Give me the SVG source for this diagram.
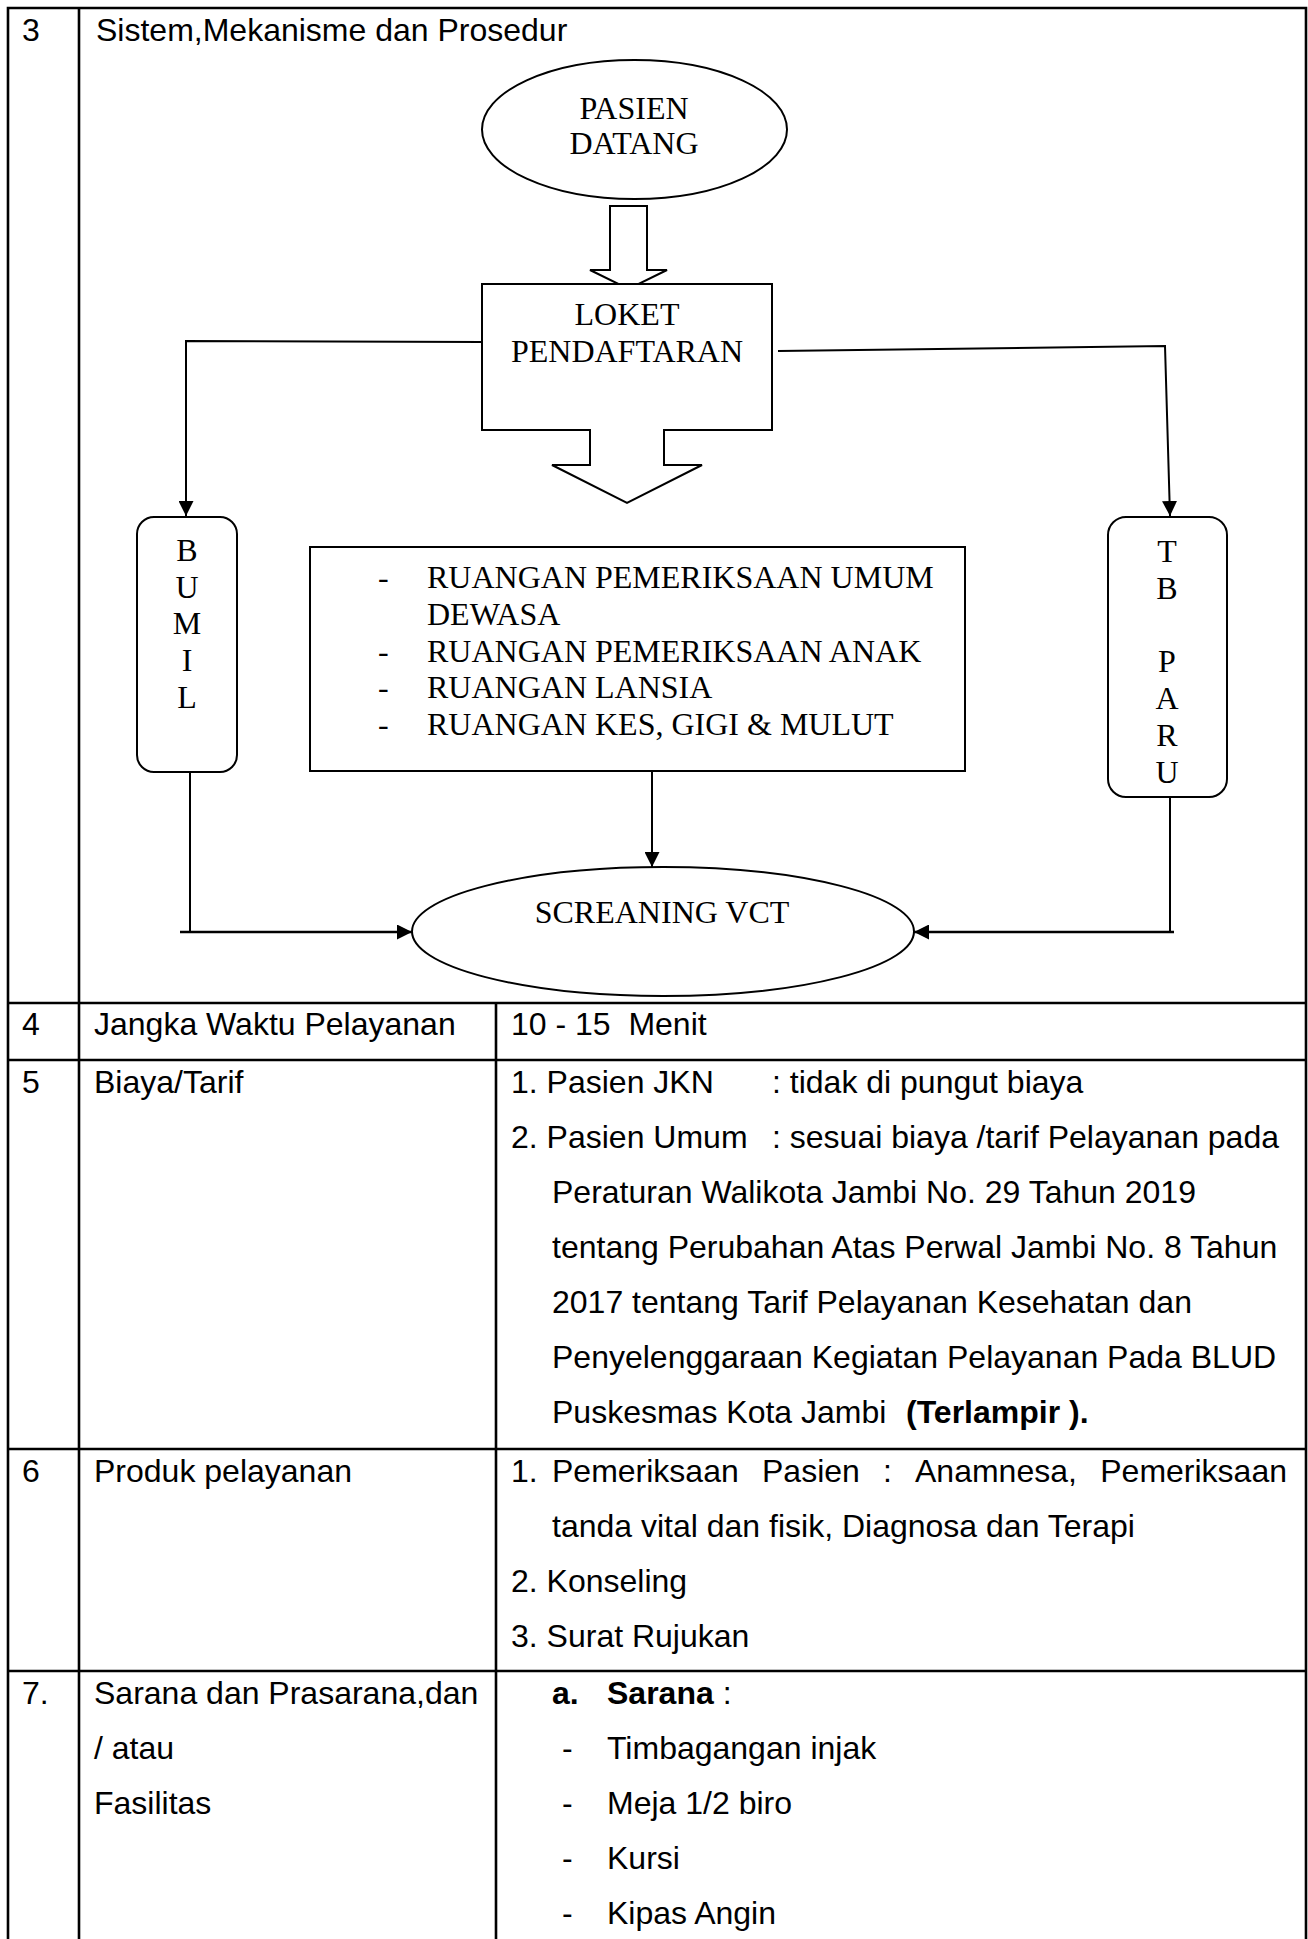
<svg xmlns="http://www.w3.org/2000/svg" width="1308" height="1939" viewBox="0 0 1308 1939">
  <style>
    .grid { stroke: #000; stroke-width: 2.6; fill: none; }
    .shape { stroke: #000; stroke-width: 2; fill: #fff; }
    .link { stroke: #000; stroke-width: 2; fill: none; }
    .link-bold { stroke: #000; stroke-width: 2.6; fill: none; }
    .sans { font-family: "Liberation Sans", Arial, sans-serif; font-size: 32px; fill: #000; }
    .serif { font-family: "Liberation Serif", "Times New Roman", serif; font-size: 32px; fill: #000; }
    .mid { text-anchor: middle; }
    .b { font-weight: bold; }
  </style>
  <defs>
    <marker id="arrow" viewBox="0 0 15 15" refX="15" refY="7.5" markerWidth="15" markerHeight="15" markerUnits="userSpaceOnUse" orient="auto">
      <path d="M0,0 L15,7.5 L0,15 z" fill="#000"/>
    </marker>
  </defs>

  <rect width="1308" height="1939" fill="#fff"/>

  <!-- table ruling -->
  <g id="table">
    <path class="grid" d="M8,1939 V8 H1306 V1939"/>
    <path class="grid" d="M79,8 V1939"/>
    <path class="grid" d="M8,1003 H1306"/>
    <path class="grid" d="M496,1003 V1939"/>
    <path class="grid" d="M8,1060 H1306"/>
    <path class="grid" d="M8,1449 H1306"/>
    <path class="grid" d="M8,1671 H1306"/>
  </g>

  <!-- row 3 heading -->
  <g id="row3">
    <text class="sans" x="22" y="41">3</text>
    <text class="sans" x="96" y="41">Sistem,Mekanisme dan Prosedur</text>
  </g>

  <!-- flowchart connectors -->
  <g id="connectors">
    <path class="link" d="M482,342 L186,341 L186,516" marker-end="url(#arrow)"/>
    <path class="link" d="M778,351 L1165,346 L1170,516" marker-end="url(#arrow)"/>
    <path class="link" d="M190,772 V932"/>
    <path class="link-bold" d="M180,932 H412" marker-end="url(#arrow)"/>
    <path class="link" d="M652,771 V867" marker-end="url(#arrow)"/>
    <path class="link" d="M1170,797 V932"/>
    <path class="link-bold" d="M1174,932 H914" marker-end="url(#arrow)"/>
  </g>

  <!-- block arrow: patient to registration -->
  <g id="arrow-in">
    <polygon class="shape" points="610,206 647,206 647,270 667,270 628.5,289 590,270 610,270"/>
  </g>

  <g id="pasien-datang">
    <ellipse class="shape" cx="634.5" cy="129.5" rx="152.5" ry="69.5"/>
    <text class="serif mid" x="634" y="119">PASIEN</text>
    <text class="serif mid" x="634" y="154">DATANG</text>
  </g>

  <g id="loket">
    <rect class="shape" x="482" y="284" width="290" height="146"/>
    <text class="serif mid" x="627" y="325">LOKET</text>
    <text class="serif mid" x="627" y="362">PENDAFTARAN</text>
  </g>

  <!-- block arrow: registration to rooms -->
  <g id="arrow-out">
    <polygon points="591,429 663,429 663,465 702,465 627,503 552,465 591,465" fill="#fff"/>
    <path class="link" d="M590,430 V465 H552 L627,503 L702,465 H664 V430"/>
  </g>

  <g id="bumil">
    <rect class="shape" x="137" y="517" width="100" height="255" rx="17" ry="17"/>
    <text class="serif mid" x="187" y="561">B</text>
    <text class="serif mid" x="187" y="597.7">U</text>
    <text class="serif mid" x="187" y="634.4">M</text>
    <text class="serif mid" x="187" y="671.1">I</text>
    <text class="serif mid" x="187" y="707.8">L</text>
  </g>

  <g id="ruangan">
    <rect class="shape" x="310" y="547" width="655" height="224"/>
    <text class="serif" x="378" y="588">-</text>
    <text class="serif" x="427" y="588">RUANGAN PEMERIKSAAN UMUM</text>
    <text class="serif" x="427" y="625">DEWASA</text>
    <text class="serif" x="378" y="661.5">-</text>
    <text class="serif" x="427" y="661.5">RUANGAN PEMERIKSAAN ANAK</text>
    <text class="serif" x="378" y="698">-</text>
    <text class="serif" x="427" y="698">RUANGAN LANSIA</text>
    <text class="serif" x="378" y="735">-</text>
    <text class="serif" x="427" y="735">RUANGAN KES, GIGI &amp; MULUT</text>
  </g>

  <g id="tb-paru">
    <rect class="shape" x="1108" y="517" width="119" height="280" rx="18" ry="18"/>
    <text class="serif mid" x="1167" y="562">T</text>
    <text class="serif mid" x="1167" y="598.5">B</text>
    <text class="serif mid" x="1167" y="672">P</text>
    <text class="serif mid" x="1167" y="709">A</text>
    <text class="serif mid" x="1167" y="746">R</text>
    <text class="serif mid" x="1167" y="783">U</text>
  </g>

  <g id="screening-vct">
    <ellipse class="shape" cx="663" cy="931.5" rx="251" ry="64.5"/>
    <text class="serif mid" x="662" y="923">SCREANING VCT</text>
  </g>

  <!-- row 4 -->
  <g id="row4">
    <text class="sans" x="22" y="1035">4</text>
    <text class="sans" x="94" y="1035">Jangka Waktu Pelayanan</text>
    <text class="sans" x="511" y="1035" xml:space="preserve">10 - 15  Menit</text>
  </g>

  <!-- row 5 -->
  <g id="row5">
    <text class="sans" x="22" y="1093">5</text>
    <text class="sans" x="94" y="1093">Biaya/Tarif</text>
    <text class="sans" x="511" y="1093">1. Pasien JKN</text>
    <text class="sans" x="772" y="1093">: tidak di pungut biaya</text>
    <text class="sans" x="511" y="1148">2. Pasien Umum</text>
    <text class="sans" x="772" y="1148">: sesuai biaya /tarif Pelayanan pada</text>
    <text class="sans" x="552" y="1203">Peraturan Walikota Jambi No. 29 Tahun 2019</text>
    <text class="sans" x="552" y="1258">tentang Perubahan Atas Perwal Jambi No. 8 Tahun</text>
    <text class="sans" x="552" y="1313">2017 tentang Tarif Pelayanan Kesehatan dan</text>
    <text class="sans" x="552" y="1368">Penyelenggaraan Kegiatan Pelayanan Pada BLUD</text>
    <text class="sans" x="552" y="1423">Puskesmas Kota Jambi</text>
    <text class="sans b" x="906" y="1423">(Terlampir ).</text>
  </g>

  <!-- row 6 -->
  <g id="row6">
    <text class="sans" x="22" y="1482">6</text>
    <text class="sans" x="94" y="1482">Produk pelayanan</text>
    <text class="sans" x="511" y="1482">1.</text>
    <text class="sans" x="552" y="1482">Pemeriksaan</text>
    <text class="sans" x="762" y="1482">Pasien</text>
    <text class="sans" x="883" y="1482">:</text>
    <text class="sans" x="915" y="1482">Anamnesa,</text>
    <text class="sans" x="1287" y="1482" text-anchor="end">Pemeriksaan</text>
    <text class="sans" x="552" y="1537">tanda vital dan fisik, Diagnosa dan Terapi</text>
    <text class="sans" x="511" y="1592">2. Konseling</text>
    <text class="sans" x="511" y="1647">3. Surat Rujukan</text>
  </g>

  <!-- row 7 -->
  <g id="row7">
    <text class="sans" x="22" y="1704">7.</text>
    <text class="sans" x="94" y="1704">Sarana dan Prasarana,dan</text>
    <text class="sans" x="94" y="1759">/ atau</text>
    <text class="sans" x="94" y="1814">Fasilitas</text>
    <text class="sans b" x="552" y="1704">a.</text>
    <text class="sans" x="607" y="1704"><tspan class="b">Sarana</tspan> :</text>
    <text class="sans" x="562" y="1759">-</text>
    <text class="sans" x="607" y="1759">Timbagangan injak</text>
    <text class="sans" x="562" y="1814">-</text>
    <text class="sans" x="607" y="1814">Meja 1/2 biro</text>
    <text class="sans" x="562" y="1869">-</text>
    <text class="sans" x="607" y="1869">Kursi</text>
    <text class="sans" x="562" y="1924">-</text>
    <text class="sans" x="607" y="1924">Kipas Angin</text>
  </g>
</svg>
